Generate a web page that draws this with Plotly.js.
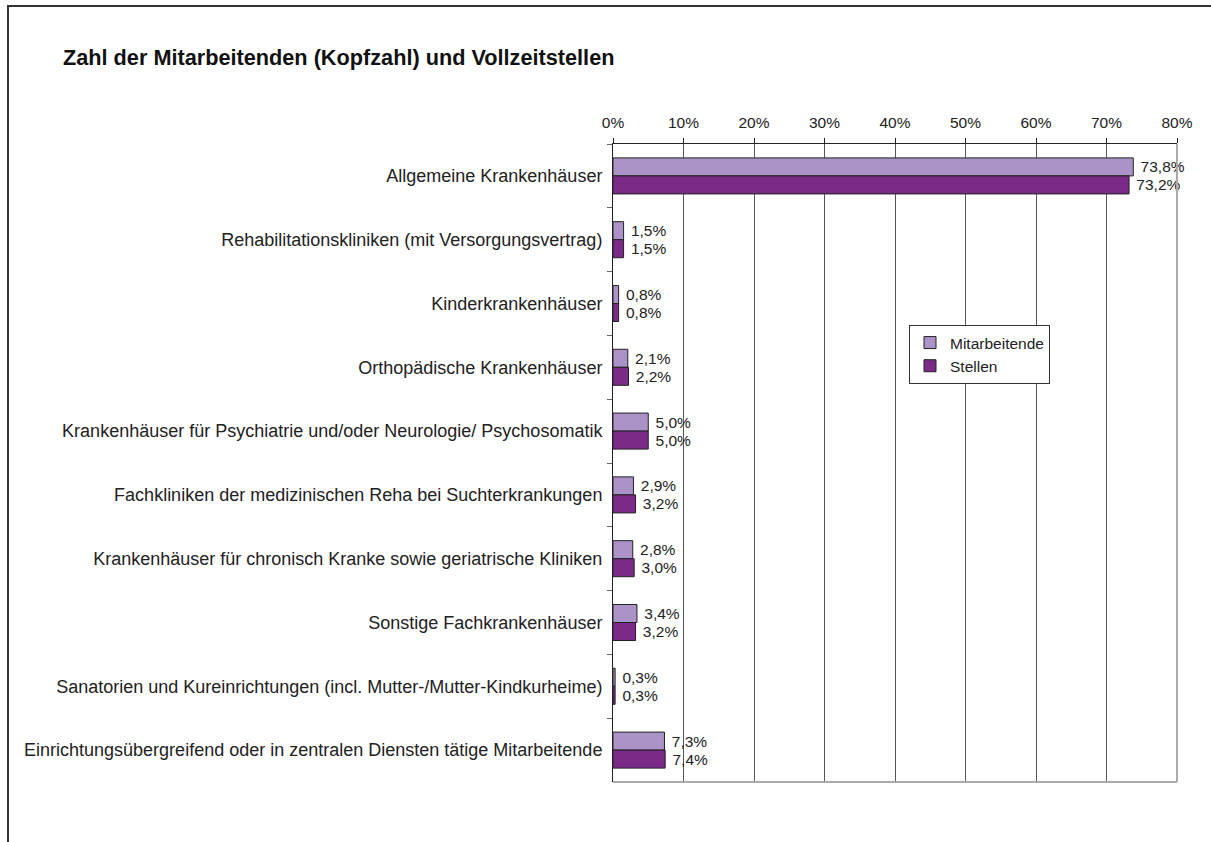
<!DOCTYPE html>
<html>
<head>
<meta charset="utf-8">
<script src="https://cdn.plot.ly/plotly-3.0.1.min.js"></script>
<style>
html,body{margin:0;padding:0;background:#fff;}
#frame{position:absolute;left:7px;top:5px;width:1210px;height:845px;border-left:2px solid #333;border-top:2px solid #333;box-sizing:border-box;pointer-events:none;z-index:5;}
#chart{width:1211px;height:842px;}
</style>
</head>
<body>
<div id="frame"></div>
<div id="chart"></div>
<script>
const categories = [
  "Allgemeine Krankenhäuser",
  "Rehabilitationskliniken (mit Versorgungsvertrag)",
  "Kinderkrankenhäuser",
  "Orthopädische Krankenhäuser",
  "Krankenhäuser für Psychiatrie und/oder Neurologie/ Psychosomatik",
  "Fachkliniken der medizinischen Reha bei Suchterkrankungen",
  "Krankenhäuser für chronisch Kranke sowie geriatrische Kliniken",
  "Sonstige Fachkrankenhäuser",
  "Sanatorien und Kureinrichtungen (incl. Mutter-/Mutter-Kindkurheime)",
  "Einrichtungsübergreifend oder in zentralen Diensten tätige Mitarbeitende"
];
const mitarbeitende = [73.8, 1.5, 0.8, 2.1, 5.0, 2.9, 2.8, 3.4, 0.3, 7.3];
const stellen = [73.2, 1.5, 0.8, 2.2, 5.0, 3.2, 3.0, 3.2, 0.3, 7.4];
const seriesNames = ["Mitarbeitende", "Stellen"];
const tickValues = [0, 10, 20, 30, 40, 50, 60, 70, 80];
const tickLabels = ["0%", "10%", "20%", "30%", "40%", "50%", "60%", "70%", "80%"];

const FONT = "Liberation Sans, Arial, Helvetica, sans-serif";
const common = {
  type: "bar", orientation: "h", y: categories,
  textposition: "outside", texttemplate: " %{x:.1f}%",
  textfont: {family: FONT, size: 15.5, color: "#222"},
  cliponaxis: false, hoverinfo: "x+y"
};
const data = [
  Object.assign({}, common, {
    name: seriesNames[0], x: mitarbeitende,
    marker: {color: "#AB93C7", line: {color: "#222", width: 1}}
  }),
  Object.assign({}, common, {
    name: seriesNames[1], x: stellen,
    marker: {color: "#7B2A88", line: {color: "#222", width: 1}}
  })
];

const layout = {
  width: 1211, height: 842,
  margin: {l: 613, r: 34, t: 144, b: 60},
  paper_bgcolor: "#fff", plot_bgcolor: "#fff",
  separators: ",.",
  font: {family: FONT, size: 15.5, color: "#222"},
  barmode: "group", bargap: 0.435, bargroupgap: 0,
  title: {
    text: "<b>Zahl der Mitarbeitenden (Kopfzahl) und Vollzeitstellen</b>",
    font: {family: FONT, size: 21.7, color: "#111"},
    xref: "container", yref: "container",
    x: 63/1211, xanchor: "left", y: 1 - 57/842, yanchor: "middle"
  },
  xaxis: {
    side: "top", range: [0, 80], tickvals: tickValues, ticktext: tickLabels,
    ticks: "outside", ticklen: 5, tickcolor: "#222",
    showgrid: true, gridcolor: "#555", gridwidth: 1,
    showline: true, linecolor: "#222", linewidth: 1,
    zeroline: false, fixedrange: true,
    tickfont: {family: FONT, size: 15.5, color: "#222"},
    ticklabelstandoff: 4
  },
  yaxis: {
    autorange: "reversed", tickson: "boundaries",
    ticks: "outside", ticklen: 5, tickcolor: "#666",
    showline: true, linecolor: "#222", linewidth: 1,
    showgrid: false, zeroline: false, fixedrange: true,
    tickfont: {family: FONT, size: 18, color: "#222"},
    ticklabelstandoff: 6
  },
  legend: {
    x: (909-613)/(1211-613-34), y: 1 - (325-144)/638,
    xanchor: "left", yanchor: "top",
    bgcolor: "#fff", bordercolor: "#333", borderwidth: 1,
    font: {family: FONT, size: 15.5, color: "#222"},
    traceorder: "normal", itemwidth: 30
  },
  shapes: [
    {type: "line", xref: "paper", yref: "paper", x0: 1, x1: 1, y0: 0, y1: 1, line: {color: "#aaa", width: 2}},
    {type: "line", xref: "paper", yref: "paper", x0: 0, x1: 1, y0: 0, y1: 0, line: {color: "#aaa", width: 2}}
  ],
  showlegend: true
};

Plotly.newPlot("chart", data, layout, {displayModeBar: false});
</script>
</body>
</html>
